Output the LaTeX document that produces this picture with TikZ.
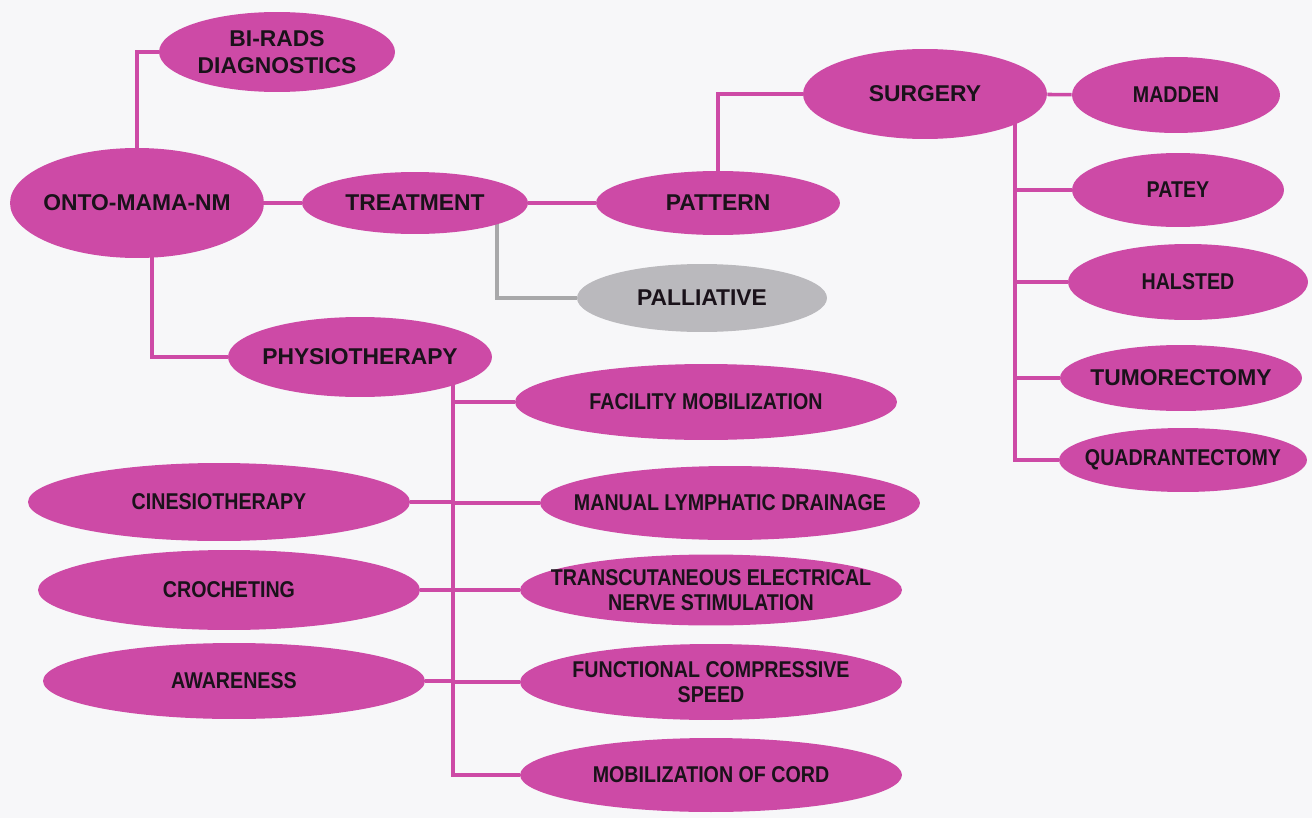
\documentclass[tikz,border=0pt]{standalone}
\usepackage{fontspec}
\setmainfont{Liberation Sans}
\newfontfamily\narrowfont{Liberation Sans}[FakeStretch=0.86]
\usetikzlibrary{shapes.geometric,calc,backgrounds}

\definecolor{orchid}{RGB}{205,74,166}
\definecolor{paper}{RGB}{247,247,249}
\definecolor{ash}{RGB}{186,185,189}
\definecolor{ashline}{RGB}{168,168,170}
\definecolor{ink}{RGB}{26,18,26}

\begin{document}
\begin{tikzpicture}[
  x=0.02cm, y=-0.02cm,
  bubble/.style={ellipse, fill=orchid, text=ink, align=center,
    inner xsep=-30pt, inner ysep=-12pt,
    font=\bfseries\fontsize{13}{15.5}\selectfont},
  narrow/.style={bubble, font=\narrowfont\bfseries\fontsize{13}{14}\selectfont},
  dims/.style 2 args={minimum width=#1cm, minimum height=#2cm},
  link/.style={orchid, line width=2pt},
  greylink/.style={ashline, line width=2pt}
]

\useasboundingbox (0,0) rectangle (1312,818);

% Root and first level
\node[bubble, dims={5.08}{2.2}]  (onto)   at (137,203) {ONTO-MAMA-NM};
\node[bubble, dims={4.72}{1.6}]  (birads) at (277,52)  {BI-RADS\\DIAGNOSTICS};
\node[bubble, dims={4.52}{1.24}] (treat)  at (415,203) {TREATMENT};
\node[bubble, dims={5.28}{1.6}]  (physio) at (360,357) {PHYSIOTHERAPY};

% Treatment branch
\node[bubble, dims={4.88}{1.28}] (pattern) at (718,203) {PATTERN};
\node[bubble, fill=ash, dims={5.0}{1.36}] (pall) at (702,298) {PALLIATIVE};
\node[bubble, dims={4.88}{1.8}]  (surgery) at (925,94)  {SURGERY};

% Surgery types
\node[narrow, dims={4.16}{1.52}] (madden) at (1176,95)  {MADDEN};
\node[narrow, dims={4.24}{1.48}] (patey)  at (1178,190) {PATEY};
\node[narrow, dims={4.8}{1.52}]  (halsted) at (1188,282) {HALSTED};
\node[bubble, dims={4.84}{1.32}] (tumor)  at (1181,378) {TUMORECTOMY};
\node[narrow, dims={4.96}{1.28}] (quadr)  at (1183,460) {QUADRANTECTOMY};

% Physiotherapy, right column
\node[narrow, dims={7.64}{1.52}] (facility) at (706,402) {FACILITY MOBILIZATION};
\node[narrow, dims={7.6}{1.48}]  (manual)   at (730,503) {MANUAL LYMPHATIC DRAINAGE};
\node[narrow, dims={7.64}{1.42}] (tens)     at (711,590) {TRANSCUTANEOUS ELECTRICAL\\NERVE STIMULATION};
\node[narrow, dims={7.64}{1.52}] (compress) at (711,682) {FUNCTIONAL COMPRESSIVE\\SPEED};
\node[narrow, dims={7.64}{1.48}] (cord)     at (711,775) {MOBILIZATION OF CORD};

% Physiotherapy, left column
\node[narrow, dims={7.64}{1.56}] (cinesio) at (219,502) {CINESIOTHERAPY};
\node[narrow, dims={7.64}{1.6}]  (croch)   at (229,590) {CROCHETING};
\node[narrow, dims={7.64}{1.52}] (aware)   at (234,681) {AWARENESS};

\begin{scope}[on background layer]
  \fill[paper] (0,0) rectangle (1312,818);

  \draw[link] (onto.north) |- (birads);
  \draw[link] (onto) -- (treat);
  \draw[link] (treat) -- (pattern);
  \draw[greylink] ($(treat)+(82,0)$) |- (pall);
  \draw[link] (pattern.north) |- (surgery);
  \draw[link] (surgery) -- (madden);

  % surgery trunk
  \coordinate (strunk) at ($(surgery)+(90,0)$);
  \foreach \n in {patey,halsted,tumor,quadr}
    \draw[link] (strunk) |- (\n);

  \draw[link] ($(onto)+(15,0)$) |- (physio);

  % physiotherapy trunk
  \coordinate (ptrunk) at ($(physio)+(93,0)$);
  \foreach \n in {facility,manual,tens,compress,cord,cinesio,croch,aware}
    \draw[link] (ptrunk) |- (\n);
\end{scope}

\end{tikzpicture}
\end{document}
